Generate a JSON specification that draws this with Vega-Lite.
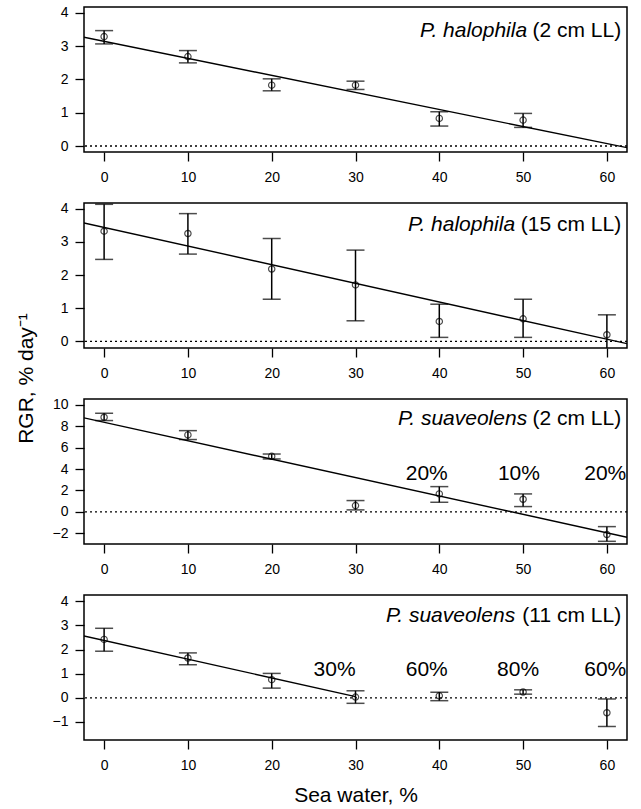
{
  "$schema": "https://vega.github.io/schema/vega-lite/v6.json",
  "padding": {"left": 14, "top": 5, "right": 4, "bottom": 2},
  "background": "white",
  "datasets": {
    "pts": [
      {"panel": 1, "x": 0, "y": 3.29, "lo": 3.07, "hi": 3.47},
      {"panel": 1, "x": 10, "y": 2.69, "lo": 2.5, "hi": 2.87},
      {"panel": 1, "x": 20, "y": 1.83, "lo": 1.66, "hi": 2.02},
      {"panel": 1, "x": 30, "y": 1.83, "lo": 1.7, "hi": 1.95},
      {"panel": 1, "x": 40, "y": 0.83, "lo": 0.6, "hi": 1.03},
      {"panel": 1, "x": 50, "y": 0.78, "lo": 0.56, "hi": 0.98},
      {"panel": 2, "x": 0, "y": 3.32, "lo": 2.47, "hi": 4.13},
      {"panel": 2, "x": 10, "y": 3.25, "lo": 2.63, "hi": 3.85},
      {"panel": 2, "x": 20, "y": 2.18, "lo": 1.27, "hi": 3.1},
      {"panel": 2, "x": 30, "y": 1.7, "lo": 0.62, "hi": 2.75},
      {"panel": 2, "x": 40, "y": 0.6, "lo": 0.12, "hi": 1.12},
      {"panel": 2, "x": 50, "y": 0.68, "lo": 0.12, "hi": 1.27},
      {"panel": 2, "x": 60, "y": 0.2, "lo": -0.4, "hi": 0.8},
      {"panel": 3, "x": 0, "y": 8.83, "lo": 8.52, "hi": 9.2},
      {"panel": 3, "x": 10, "y": 7.18, "lo": 6.75, "hi": 7.58},
      {"panel": 3, "x": 20, "y": 5.19, "lo": 4.94, "hi": 5.4},
      {"panel": 3, "x": 30, "y": 0.59, "lo": 0.19, "hi": 1.06},
      {"panel": 3, "x": 40, "y": 1.68, "lo": 0.9, "hi": 2.36},
      {"panel": 3, "x": 50, "y": 1.18, "lo": 0.5, "hi": 1.68},
      {"panel": 3, "x": 60, "y": -2.11, "lo": -2.74, "hi": -1.37},
      {"panel": 4, "x": 0, "y": 2.42, "lo": 1.93, "hi": 2.88},
      {"panel": 4, "x": 10, "y": 1.65, "lo": 1.37, "hi": 1.86},
      {"panel": 4, "x": 20, "y": 0.75, "lo": 0.4, "hi": 1.01},
      {"panel": 4, "x": 30, "y": 0.03, "lo": -0.23, "hi": 0.29},
      {"panel": 4, "x": 40, "y": 0.08, "lo": -0.12, "hi": 0.23},
      {"panel": 4, "x": 50, "y": 0.24, "lo": 0.15, "hi": 0.33},
      {"panel": 4, "x": 60, "y": -0.62, "lo": -1.19, "hi": -0.05}
    ],
    "fit": [
      {"panel": 1, "x": -2.4, "y": 3.27}, {"panel": 1, "x": 62.4, "y": -0.05},
      {"panel": 2, "x": -2.4, "y": 3.57}, {"panel": 2, "x": 62.4, "y": -0.07},
      {"panel": 3, "x": -2.4, "y": 8.77}, {"panel": 3, "x": 62.4, "y": -2.36},
      {"panel": 4, "x": -2.4, "y": 2.56}, {"panel": 4, "x": 30, "y": 0.05}
    ],
    "lab": [
      {"panel": 1, "x": 61.7, "y": 3.47, "species": "P. halophila", "rest": "(2 cm LL)"},
      {"panel": 2, "x": 61.7, "y": 3.5, "species": "P. halophila", "rest": "(15 cm LL)"},
      {"panel": 3, "x": 61.7, "y": 8.67, "species": "P. suaveolens", "rest": "(2 cm LL)"},
      {"panel": 4, "x": 61.7, "y": 3.4, "species": "P. suaveolens", "rest": "(11 cm LL)"}
    ],
    "pct": [
      {"panel": 3, "x": 38.5, "y": 3.54, "text": "20%"},
      {"panel": 3, "x": 49.5, "y": 3.54, "text": "10%"},
      {"panel": 3, "x": 59.8, "y": 3.54, "text": "20%"},
      {"panel": 4, "x": 27.5, "y": 1.17, "text": "30%"},
      {"panel": 4, "x": 38.5, "y": 1.17, "text": "60%"},
      {"panel": 4, "x": 49.4, "y": 1.17, "text": "80%"},
      {"panel": 4, "x": 59.8, "y": 1.17, "text": "60%"}
    ]
  },
  "bounds": "flush",
  "spacing": 51,
  "vconcat": [
    {
      "width": 543, "height": 145,
      "layer": [
        {"data": {"name": "pts"}, "transform": [{"filter": "datum.panel == 1"}],
         "mark": {"type": "rule", "color": "black", "strokeWidth": 1.5, "clip": true},
         "encoding": {"x": {"field": "x", "type": "quantitative", "scale": {"domain": [-2.4, 62.4], "nice": false, "zero": false}, "axis": {"values": [0, 10, 20, 30, 40, 50, 60], "title": null, "labelFlush": false, "labelPadding": 9}},
           "y": {"field": "lo", "type": "quantitative", "scale": {"domain": [-0.18, 4.18], "nice": false, "zero": false}, "axis": {"values": [0, 1, 2, 3, 4], "title": null, "labelOverlap": false}}, "y2": {"field": "hi"}}},
        {"data": {"values": [{}]}, "mark": {"type": "rule", "strokeDash": [2, 3], "strokeWidth": 1.3, "color": "black"},
         "encoding": {"y": {"datum": 0, "type": "quantitative", "scale": {"domain": [-0.18, 4.18], "nice": false, "zero": false}, "axis": {"values": [0, 1, 2, 3, 4], "title": null, "labelOverlap": false}}}},
        {"data": {"name": "pts"}, "transform": [{"filter": "datum.panel == 1"}],
         "mark": {"type": "tick", "orient": "horizontal", "size": 18, "thickness": 1.5, "color": "black", "clip": true},
         "encoding": {"x": {"field": "x", "type": "quantitative"}, "y": {"field": "lo", "type": "quantitative", "axis": {"values": [0, 1, 2, 3, 4], "title": null, "labelOverlap": false}}}},
        {"data": {"name": "pts"}, "transform": [{"filter": "datum.panel == 1"}],
         "mark": {"type": "tick", "orient": "horizontal", "size": 18, "thickness": 1.5, "color": "black", "clip": true},
         "encoding": {"x": {"field": "x", "type": "quantitative"}, "y": {"field": "hi", "type": "quantitative", "axis": {"values": [0, 1, 2, 3, 4], "title": null, "labelOverlap": false}}}},
        {"data": {"name": "pts"}, "transform": [{"filter": "datum.panel == 1"}],
         "mark": {"type": "point", "filled": false, "color": "black", "size": 40, "strokeWidth": 1.2},
         "encoding": {"x": {"field": "x", "type": "quantitative"}, "y": {"field": "y", "type": "quantitative", "axis": {"values": [0, 1, 2, 3, 4], "title": null, "labelOverlap": false}}}},
        {"data": {"name": "fit"}, "transform": [{"filter": "datum.panel == 1"}],
         "mark": {"type": "line", "color": "black", "strokeWidth": 1.4, "clip": true},
         "encoding": {"x": {"field": "x", "type": "quantitative"}, "y": {"field": "y", "type": "quantitative", "axis": {"values": [0, 1, 2, 3, 4], "title": null, "labelOverlap": false}}}},
        {"data": {"name": "lab"}, "transform": [{"filter": "datum.panel == 1"}],
         "mark": {"type": "text", "align": "right", "baseline": "middle", "fontSize": 21, "fontStyle": "italic", "dx": -94, "color": "black"},
         "encoding": {"x": {"field": "x", "type": "quantitative"}, "y": {"field": "y", "type": "quantitative", "axis": {"values": [0, 1, 2, 3, 4], "title": null, "labelOverlap": false}}, "text": {"field": "species"}}},
        {"data": {"name": "lab"}, "transform": [{"filter": "datum.panel == 1"}],
         "mark": {"type": "text", "align": "right", "baseline": "middle", "fontSize": 21, "color": "black"},
         "encoding": {"x": {"field": "x", "type": "quantitative"}, "y": {"field": "y", "type": "quantitative", "axis": {"values": [0, 1, 2, 3, 4], "title": null, "labelOverlap": false}}, "text": {"field": "rest"}}}
      ]
    },
    {
      "width": 543, "height": 145,
      "layer": [
        {"data": {"name": "pts"}, "transform": [{"filter": "datum.panel == 2"}],
         "mark": {"type": "rule", "color": "black", "strokeWidth": 1.5, "clip": true},
         "encoding": {"x": {"field": "x", "type": "quantitative", "scale": {"domain": [-2.4, 62.4], "nice": false, "zero": false}, "axis": {"values": [0, 10, 20, 30, 40, 50, 60], "title": null, "labelFlush": false, "labelPadding": 9}},
           "y": {"field": "lo", "type": "quantitative", "scale": {"domain": [-0.2, 4.17], "nice": false, "zero": false}, "axis": {"values": [0, 1, 2, 3, 4], "title": null, "labelOverlap": false}}, "y2": {"field": "hi"}}},
        {"data": {"values": [{}]}, "mark": {"type": "rule", "strokeDash": [2, 3], "strokeWidth": 1.3, "color": "black"},
         "encoding": {"y": {"datum": 0, "type": "quantitative", "scale": {"domain": [-0.2, 4.17], "nice": false, "zero": false}, "axis": {"values": [0, 1, 2, 3, 4], "title": null, "labelOverlap": false}}}},
        {"data": {"name": "pts"}, "transform": [{"filter": "datum.panel == 2"}],
         "mark": {"type": "tick", "orient": "horizontal", "size": 18, "thickness": 1.5, "color": "black", "clip": true},
         "encoding": {"x": {"field": "x", "type": "quantitative"}, "y": {"field": "lo", "type": "quantitative", "axis": {"values": [0, 1, 2, 3, 4], "title": null, "labelOverlap": false}}}},
        {"data": {"name": "pts"}, "transform": [{"filter": "datum.panel == 2"}],
         "mark": {"type": "tick", "orient": "horizontal", "size": 18, "thickness": 1.5, "color": "black", "clip": true},
         "encoding": {"x": {"field": "x", "type": "quantitative"}, "y": {"field": "hi", "type": "quantitative", "axis": {"values": [0, 1, 2, 3, 4], "title": null, "labelOverlap": false}}}},
        {"data": {"name": "pts"}, "transform": [{"filter": "datum.panel == 2"}],
         "mark": {"type": "point", "filled": false, "color": "black", "size": 40, "strokeWidth": 1.2},
         "encoding": {"x": {"field": "x", "type": "quantitative"}, "y": {"field": "y", "type": "quantitative", "axis": {"values": [0, 1, 2, 3, 4], "title": null, "labelOverlap": false}}}},
        {"data": {"name": "fit"}, "transform": [{"filter": "datum.panel == 2"}],
         "mark": {"type": "line", "color": "black", "strokeWidth": 1.4, "clip": true},
         "encoding": {"x": {"field": "x", "type": "quantitative"}, "y": {"field": "y", "type": "quantitative", "axis": {"values": [0, 1, 2, 3, 4], "title": null, "labelOverlap": false}}}},
        {"data": {"name": "lab"}, "transform": [{"filter": "datum.panel == 2"}],
         "mark": {"type": "text", "align": "right", "baseline": "middle", "fontSize": 21, "fontStyle": "italic", "dx": -106, "color": "black"},
         "encoding": {"x": {"field": "x", "type": "quantitative"}, "y": {"field": "y", "type": "quantitative", "axis": {"values": [0, 1, 2, 3, 4], "title": null, "labelOverlap": false}}, "text": {"field": "species"}}},
        {"data": {"name": "lab"}, "transform": [{"filter": "datum.panel == 2"}],
         "mark": {"type": "text", "align": "right", "baseline": "middle", "fontSize": 21, "color": "black"},
         "encoding": {"x": {"field": "x", "type": "quantitative"}, "y": {"field": "y", "type": "quantitative", "axis": {"values": [0, 1, 2, 3, 4], "title": null, "labelOverlap": false}}, "text": {"field": "rest"}}}
      ]
    },
    {
      "width": 543, "height": 145,
      "layer": [
        {"data": {"name": "pts"}, "transform": [{"filter": "datum.panel == 3"}],
         "mark": {"type": "rule", "color": "black", "strokeWidth": 1.5, "clip": true},
         "encoding": {"x": {"field": "x", "type": "quantitative", "scale": {"domain": [-2.4, 62.4], "nice": false, "zero": false}, "axis": {"values": [0, 10, 20, 30, 40, 50, 60], "title": null, "labelFlush": false, "labelPadding": 9}},
           "y": {"field": "lo", "type": "quantitative", "scale": {"domain": [-2.99, 10.53], "nice": false, "zero": false},
             "axis": {"values": [-2, 0, 2, 4, 6, 8, 10], "labelOverlap": false, "title": "RGR, % day⁻¹", "titleX": -52, "titleY": -21, "titleAngle": 270, "titleAlign": "center", "titleBaseline": "alphabetic"}},
           "y2": {"field": "hi"}}},
        {"data": {"values": [{}]}, "mark": {"type": "rule", "strokeDash": [2, 3], "strokeWidth": 1.3, "color": "black"},
         "encoding": {"y": {"datum": 0, "type": "quantitative", "scale": {"domain": [-2.99, 10.53], "nice": false, "zero": false}, "axis": {"values": [-2, 0, 2, 4, 6, 8, 10], "labelOverlap": false}}}},
        {"data": {"name": "pts"}, "transform": [{"filter": "datum.panel == 3"}],
         "mark": {"type": "tick", "orient": "horizontal", "size": 18, "thickness": 1.5, "color": "black", "clip": true},
         "encoding": {"x": {"field": "x", "type": "quantitative"}, "y": {"field": "lo", "type": "quantitative", "axis": {"values": [-2, 0, 2, 4, 6, 8, 10], "labelOverlap": false}}}},
        {"data": {"name": "pts"}, "transform": [{"filter": "datum.panel == 3"}],
         "mark": {"type": "tick", "orient": "horizontal", "size": 18, "thickness": 1.5, "color": "black", "clip": true},
         "encoding": {"x": {"field": "x", "type": "quantitative"}, "y": {"field": "hi", "type": "quantitative", "axis": {"values": [-2, 0, 2, 4, 6, 8, 10], "labelOverlap": false}}}},
        {"data": {"name": "pts"}, "transform": [{"filter": "datum.panel == 3"}],
         "mark": {"type": "point", "filled": false, "color": "black", "size": 40, "strokeWidth": 1.2},
         "encoding": {"x": {"field": "x", "type": "quantitative"}, "y": {"field": "y", "type": "quantitative", "axis": {"values": [-2, 0, 2, 4, 6, 8, 10], "labelOverlap": false}}}},
        {"data": {"name": "fit"}, "transform": [{"filter": "datum.panel == 3"}],
         "mark": {"type": "line", "color": "black", "strokeWidth": 1.4, "clip": true},
         "encoding": {"x": {"field": "x", "type": "quantitative"}, "y": {"field": "y", "type": "quantitative", "axis": {"values": [-2, 0, 2, 4, 6, 8, 10], "labelOverlap": false}}}},
        {"data": {"name": "lab"}, "transform": [{"filter": "datum.panel == 3"}],
         "mark": {"type": "text", "align": "right", "baseline": "middle", "fontSize": 21, "fontStyle": "italic", "dx": -94, "color": "black"},
         "encoding": {"x": {"field": "x", "type": "quantitative"}, "y": {"field": "y", "type": "quantitative", "axis": {"values": [-2, 0, 2, 4, 6, 8, 10], "labelOverlap": false}}, "text": {"field": "species"}}},
        {"data": {"name": "lab"}, "transform": [{"filter": "datum.panel == 3"}],
         "mark": {"type": "text", "align": "right", "baseline": "middle", "fontSize": 21, "color": "black"},
         "encoding": {"x": {"field": "x", "type": "quantitative"}, "y": {"field": "y", "type": "quantitative", "axis": {"values": [-2, 0, 2, 4, 6, 8, 10], "labelOverlap": false}}, "text": {"field": "rest"}}},
        {"data": {"name": "pct"}, "transform": [{"filter": "datum.panel == 3"}],
         "mark": {"type": "text", "align": "center", "baseline": "middle", "fontSize": 21, "color": "black"},
         "encoding": {"x": {"field": "x", "type": "quantitative"}, "y": {"field": "y", "type": "quantitative", "axis": {"values": [-2, 0, 2, 4, 6, 8, 10], "labelOverlap": false}}, "text": {"field": "text"}}}
      ]
    },
    {
      "width": 543, "height": 145,
      "layer": [
        {"data": {"name": "pts"}, "transform": [{"filter": "datum.panel == 4"}],
         "mark": {"type": "rule", "color": "black", "strokeWidth": 1.5, "clip": true},
         "encoding": {"x": {"field": "x", "type": "quantitative", "scale": {"domain": [-2.4, 62.4], "nice": false, "zero": false},
             "axis": {"values": [0, 10, 20, 30, 40, 50, 60], "title": "Sea water, %", "labelFlush": false, "labelPadding": 9, "titlePadding": 12, "titleFontSize": 21}},
           "y": {"field": "lo", "type": "quantitative", "scale": {"domain": [-1.75, 4.26], "nice": false, "zero": false}, "axis": {"values": [-1, 0, 1, 2, 3, 4], "title": null, "labelOverlap": false}}, "y2": {"field": "hi"}}},
        {"data": {"values": [{}]}, "mark": {"type": "rule", "strokeDash": [2, 3], "strokeWidth": 1.3, "color": "black"},
         "encoding": {"y": {"datum": 0, "type": "quantitative", "scale": {"domain": [-1.75, 4.26], "nice": false, "zero": false}, "axis": {"values": [-1, 0, 1, 2, 3, 4], "title": null, "labelOverlap": false}}}},
        {"data": {"name": "pts"}, "transform": [{"filter": "datum.panel == 4"}],
         "mark": {"type": "tick", "orient": "horizontal", "size": 18, "thickness": 1.5, "color": "black", "clip": true},
         "encoding": {"x": {"field": "x", "type": "quantitative"}, "y": {"field": "lo", "type": "quantitative", "axis": {"values": [-1, 0, 1, 2, 3, 4], "title": null, "labelOverlap": false}}}},
        {"data": {"name": "pts"}, "transform": [{"filter": "datum.panel == 4"}],
         "mark": {"type": "tick", "orient": "horizontal", "size": 18, "thickness": 1.5, "color": "black", "clip": true},
         "encoding": {"x": {"field": "x", "type": "quantitative"}, "y": {"field": "hi", "type": "quantitative", "axis": {"values": [-1, 0, 1, 2, 3, 4], "title": null, "labelOverlap": false}}}},
        {"data": {"name": "pts"}, "transform": [{"filter": "datum.panel == 4"}],
         "mark": {"type": "point", "filled": false, "color": "black", "size": 40, "strokeWidth": 1.2},
         "encoding": {"x": {"field": "x", "type": "quantitative"}, "y": {"field": "y", "type": "quantitative", "axis": {"values": [-1, 0, 1, 2, 3, 4], "title": null, "labelOverlap": false}}}},
        {"data": {"name": "fit"}, "transform": [{"filter": "datum.panel == 4"}],
         "mark": {"type": "line", "color": "black", "strokeWidth": 1.4, "clip": true},
         "encoding": {"x": {"field": "x", "type": "quantitative"}, "y": {"field": "y", "type": "quantitative", "axis": {"values": [-1, 0, 1, 2, 3, 4], "title": null, "labelOverlap": false}}}},
        {"data": {"name": "lab"}, "transform": [{"filter": "datum.panel == 4"}],
         "mark": {"type": "text", "align": "right", "baseline": "middle", "fontSize": 21, "fontStyle": "italic", "dx": -106, "color": "black"},
         "encoding": {"x": {"field": "x", "type": "quantitative"}, "y": {"field": "y", "type": "quantitative", "axis": {"values": [-1, 0, 1, 2, 3, 4], "title": null, "labelOverlap": false}}, "text": {"field": "species"}}},
        {"data": {"name": "lab"}, "transform": [{"filter": "datum.panel == 4"}],
         "mark": {"type": "text", "align": "right", "baseline": "middle", "fontSize": 21, "color": "black"},
         "encoding": {"x": {"field": "x", "type": "quantitative"}, "y": {"field": "y", "type": "quantitative", "axis": {"values": [-1, 0, 1, 2, 3, 4], "title": null, "labelOverlap": false}}, "text": {"field": "rest"}}},
        {"data": {"name": "pct"}, "transform": [{"filter": "datum.panel == 4"}],
         "mark": {"type": "text", "align": "center", "baseline": "middle", "fontSize": 21, "color": "black"},
         "encoding": {"x": {"field": "x", "type": "quantitative"}, "y": {"field": "y", "type": "quantitative", "axis": {"values": [-1, 0, 1, 2, 3, 4], "title": null, "labelOverlap": false}}, "text": {"field": "text"}}}
      ]
    }
  ],
  "config": {
    "font": "Liberation Sans",
    "view": {"stroke": "black", "strokeWidth": 1.5},
    "axis": {"grid": false, "domain": false, "ticks": true, "tickColor": "black", "tickSize": 9, "tickWidth": 1.3,
      "labelFont": "Liberation Sans", "labelFontSize": 14, "labelColor": "black", "labelPadding": 7, "labelOverlap": false,
      "titleFont": "Liberation Sans", "titleFontWeight": "normal", "titleFontSize": 21, "titleColor": "black"},
    "text": {"font": "Liberation Sans"}
  }
}
